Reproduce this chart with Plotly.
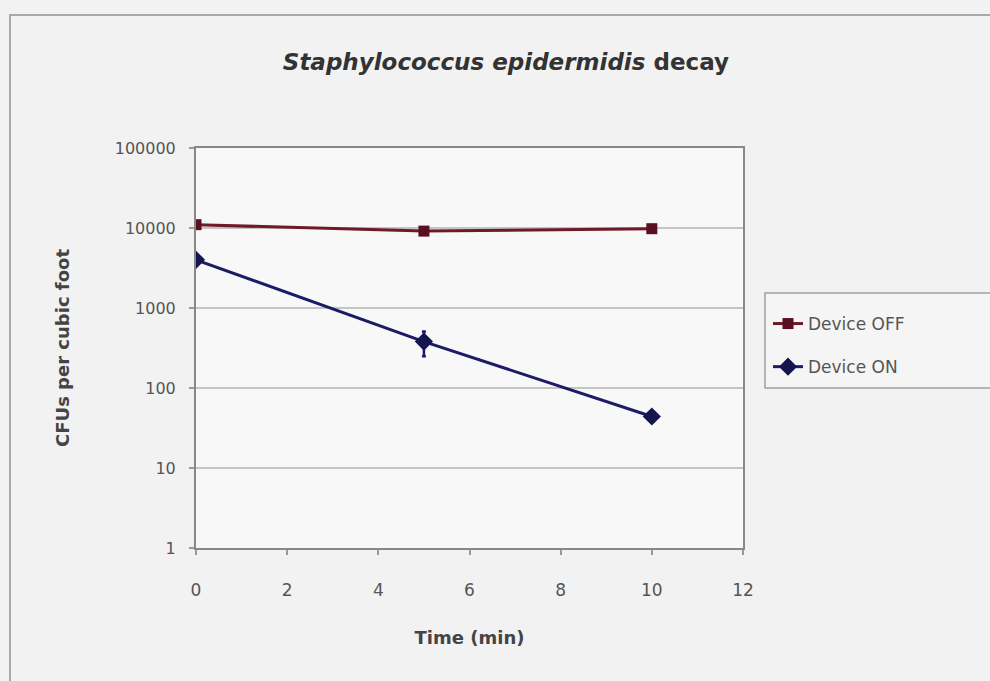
import plotly.graph_objects as go

time_min = [0, 5, 10]
device_off = [11000, 9150, 9800]
device_on = [4000, 380, 44]
device_on_err = [0, 130, 0]

y_tickvals = [1, 10, 100, 1000, 10000, 100000]
y_ticktext = ["1", "10", "100", "1000", "10000", "100000"]
x_tickvals = [0, 2, 4, 6, 8, 10, 12]

OFF_COLOR = "#6e1a28"
ON_COLOR = "#1c1c66"
FONT = "DejaVu Sans, Liberation Sans, Arial, sans-serif"

fig = go.Figure()
fig.add_trace(go.Scatter(
    x=time_min, y=device_off, name="Device OFF", mode="lines+markers",
    legendgroup="off",
    line=dict(color=OFF_COLOR, width=3),
    marker=dict(symbol="square", size=11, color="#5a1020"),
))
fig.add_trace(go.Scatter(
    x=time_min, y=device_on, name="Device ON", mode="lines+markers",
    legendgroup="on",
    line=dict(color=ON_COLOR, width=3),
    marker=dict(symbol="diamond", size=14, color="#14144f"),
    error_y=dict(type="data", array=device_on_err, visible=True,
                 color=ON_COLOR, thickness=2.5, width=2),
))

W, H = 990, 681
L, R, T, B = 196, 743, 148, 548


def px_x(p):
    return (p - L) / (R - L)


def px_y(p):
    return (B - p) / (B - T)


fig.update_layout(
    width=W, height=H,
    margin=dict(l=L, r=W - R, t=T, b=H - B, autoexpand=False),
    paper_bgcolor="#f2f2f2",
    plot_bgcolor="#f8f8f8",
    font=dict(family=FONT, color="#555555", size=16),
    title=dict(
        text="<b><i>Staphylococcus epidermidis</i> decay</b>",
        x=0.511, xref="container", xanchor="center",
        y=1 - 62 / H, yref="container", yanchor="middle",
        font=dict(size=23, color="#333333", family=FONT),
    ),
    showlegend=True,
    legend=dict(
        x=px_x(768), xanchor="left",
        y=px_y(306), yanchor="top",
        bgcolor="rgba(0,0,0,0)", borderwidth=0,
        font=dict(size=17, color="#555555", family=FONT),
        tracegroupgap=18,
    ),
    shapes=[
        dict(
            type="rect", xref="paper", yref="paper",
            x0=px_x(10), x1=px_x(W + 20),
            y0=px_y(H + 20), y1=px_y(15),
            line=dict(color="#a8a8a8", width=2), fillcolor="rgba(0,0,0,0)",
            layer="below",
        ),
        dict(
            type="rect", xref="paper", yref="paper",
            x0=px_x(765), x1=px_x(W + 20),
            y0=px_y(388), y1=px_y(293),
            line=dict(color="#a0a0a0", width=1.5), fillcolor="#f5f5f5",
            layer="below",
        ),
    ],
)

fig.update_xaxes(
    range=[0, 12], tickvals=x_tickvals,
    showgrid=False, zeroline=False,
    showline=True, linecolor="#888888", linewidth=2, mirror=True,
    ticks="outside", ticklen=5, tickcolor="#999999", tickwidth=1.5,
    ticklabelstandoff=21,
    tickfont=dict(size=17, color="#555555", family=FONT),
    title=dict(text="<b>Time (min)</b>", standoff=32,
               font=dict(size=18, color="#444444", family=FONT)),
)
fig.update_yaxes(
    type="log", range=[0, 5], tickvals=y_tickvals, ticktext=y_ticktext,
    showgrid=True, gridcolor="#c4c4c4", gridwidth=2,
    zeroline=False,
    showline=True, linecolor="#888888", linewidth=2, mirror=True,
    ticks="outside", ticklen=5, tickcolor="#999999", tickwidth=1.5,
    ticklabelstandoff=10,
    tickfont=dict(size=16, color="#555555", family=FONT),
    title=dict(text="<b>CFUs per cubic foot</b>", standoff=40,
               font=dict(size=18, color="#444444", family=FONT)),
)

fig.write_html(
    "out.html",
    config={"displayModeBar": False},
    post_script="document.body.style.margin='0';document.body.style.background='#f2f2f2';",
)
